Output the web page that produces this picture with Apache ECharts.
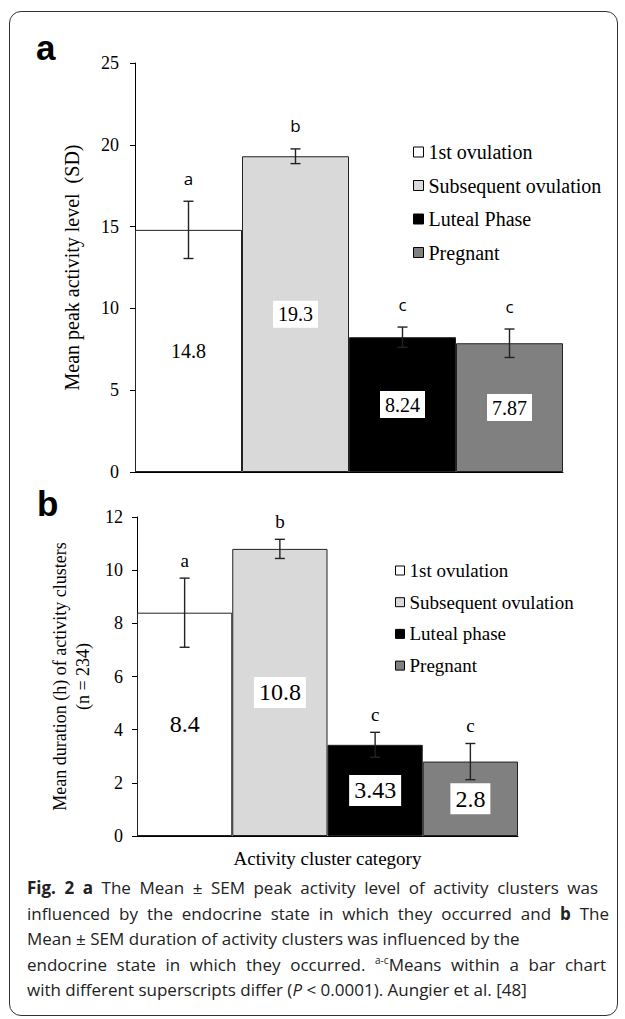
<!DOCTYPE html>
<html>
<head>
<meta charset="utf-8">
<script src="https://cdn.jsdelivr.net/npm/echarts@6/dist/echarts.min.js"></script>
<style>
  html, body { margin:0; padding:0; background:#fff; }
  #frame { position:absolute; left:9px; top:11px; width:609px; height:1005px; border:1.5px solid #333; border-radius:12px; box-sizing:border-box; }
  #chart { position:absolute; left:0; top:0; width:625px; height:1019px; }
  #caption { position:absolute; left:27px; top:875px; width:590px; font-family:'Open Sans', sans-serif; font-size:17px; line-height:25.5px; color:#222; white-space:nowrap; }
  #caption .j { text-align:justify; text-align-last:justify; }
  #caption sup { font-size:10px; vertical-align:7px; line-height:0; }
</style>
</head>
<body>
<div id="frame"></div>
<div id="chart"></div>
<div id="caption">
  <div class="j" style="width:571px"><b>Fig. 2 a</b> The Mean ± SEM peak activity level of activity clusters was</div>
  <div class="j" style="width:582px">influenced by the endocrine state in which they occurred and <b>b</b> The</div>
  <div>Mean ± SEM duration of activity clusters was influenced by the</div>
  <div class="j" style="width:579px">endocrine state in which they occurred. <sup>a-c</sup>Means within a bar chart</div>
  <div>with different superscripts differ (<i>P</i> &lt; 0.0001). Aungier et al. [48]</div>
</div>
<script>
// ---- data ----
const categoriesA = ['1st ovulation', 'Subsequent ovulation', 'Luteal Phase', 'Pregnant'];
const categoriesB = ['1st ovulation', 'Subsequent ovulation', 'Luteal phase', 'Pregnant'];
const peakMean = [14.8, 19.3, 8.24, 7.87];
const peakSem = [1.75, 0.45, 0.62, 0.87];
const durMean = [8.4, 10.8, 3.43, 2.8];
const durSem = [1.3, 0.36, 0.47, 0.68];
const lettersA = ['a', 'b', 'c', 'c'];
const lettersB = ['a', 'b', 'c', 'c'];
const barColors = ['#ffffff', '#d9d9d9', '#000000', '#808080'];

const SERIF = 'Liberation Serif';

function barSeries(names, means, idx, fontSize) {
  return names.map((n, i) => ({
    type: 'bar', name: n, xAxisIndex: idx, yAxisIndex: idx,
    barGap: '-100%', barCategoryGap: '0%',
    data: means.map((v, j) => (j === i ? v : '-')),
    itemStyle: { color: barColors[i], borderColor: '#222', borderWidth: 1 },
    label: {
      show: true, position: 'inside', formatter: (p) => String(p.value),
      backgroundColor: '#fff', padding: [4, 5, 3, 5],
      fontFamily: SERIF, fontSize: fontSize, color: '#000'
    },
    z: 2
  }));
}

function errSeries(means, sems, letters, idx, letterFont, offset) {
  return {
    type: 'custom', xAxisIndex: idx, yAxisIndex: idx, z: 10, silent: true,
    data: means.map((m, j) => [j, m - sems[j], m + sems[j]]),
    encode: { x: 0, y: [1, 2] },
    renderItem: function (params, api) {
      const x = api.value(0);
      const lo = api.coord([x, api.value(1)]);
      const hi = api.coord([x, api.value(2)]);
      const hw = 5;
      const st = { stroke: '#222', lineWidth: 1.4 };
      return {
        type: 'group',
        children: [
          { type: 'line', shape: { x1: hi[0], y1: lo[1], x2: hi[0], y2: hi[1] }, style: st },
          { type: 'line', shape: { x1: hi[0] - hw, y1: hi[1], x2: hi[0] + hw, y2: hi[1] }, style: st },
          { type: 'line', shape: { x1: hi[0] - hw, y1: lo[1], x2: hi[0] + hw, y2: lo[1] }, style: st },
          { type: 'text', style: { text: letters[params.dataIndex], x: hi[0], y: hi[1] - offset,
              align: 'center', verticalAlign: 'middle', textAlign: 'center', textVerticalAlign: 'middle',
              font: letterFont, fill: '#000' } }
        ]
      };
    }
  };
}

const chart = echarts.init(document.getElementById('chart'), null, { renderer: 'svg' });

const axisLineStyle = { show: true, lineStyle: { color: '#000', width: 1 } };

const option = {
  animation: false,
  grid: [
    { left: 135, top: 63, width: 428, height: 409 },
    { left: 137, top: 517, width: 381, height: 319 }
  ],
  xAxis: [
    { type: 'category', gridIndex: 0, data: categoriesA, axisLine: axisLineStyle,
      axisTick: { show: false }, axisLabel: { show: false } },
    { type: 'category', gridIndex: 1, data: categoriesB, axisLine: axisLineStyle,
      axisTick: { show: false }, axisLabel: { show: false },
      name: 'Activity cluster category', nameLocation: 'middle', nameGap: 13,
      nameTextStyle: { fontFamily: SERIF, fontSize: 19, color: '#000' } }
  ],
  yAxis: [
    { type: 'value', gridIndex: 0, min: 0, max: 25, interval: 5,
      axisLine: axisLineStyle, axisTick: { show: true, length: 5, lineStyle: { color: '#000' } },
      splitLine: { show: false },
      axisLabel: { fontFamily: SERIF, fontSize: 18, color: '#000', margin: 16 },
      name: 'Mean peak activity level  (SD)', nameLocation: 'middle', nameGap: 53,
      nameTextStyle: { fontFamily: SERIF, fontSize: 20, color: '#000' } },
    { type: 'value', gridIndex: 1, min: 0, max: 12, interval: 2,
      axisLine: axisLineStyle, axisTick: { show: true, length: 5, lineStyle: { color: '#000' } },
      splitLine: { show: false },
      axisLabel: { fontFamily: SERIF, fontSize: 18, color: '#000', margin: 14 },
      name: 'Mean duration (h) of activity clusters\n(n = 234)', nameLocation: 'middle', nameGap: 20,
      nameTextStyle: { fontFamily: SERIF, fontSize: 18, lineHeight: 23, color: '#000', align: 'center' } }
  ],
  legend: [
    { orient: 'vertical', left: 413, top: 142, padding: 0, data: categoriesA, icon: 'rect',
      itemWidth: 10, itemHeight: 10, itemGap: 13.5, selectedMode: false,
      itemStyle: { borderColor: '#000', borderWidth: 1 },
      textStyle: { fontFamily: SERIF, fontSize: 20, lineHeight: 20, color: '#000' } },
    { orient: 'vertical', left: 395, top: 561, padding: 0, data: categoriesB, icon: 'rect',
      itemWidth: 9, itemHeight: 9, itemGap: 12.7, selectedMode: false,
      itemStyle: { borderColor: '#000', borderWidth: 1 },
      textStyle: { fontFamily: SERIF, fontSize: 19, lineHeight: 19, color: '#000' } }
  ],
  graphic: [
    { type: 'text', x: 36, y: 47, style: { text: 'a', font: 'bold 35px Liberation Sans', fill: '#000', verticalAlign: 'middle' } },
    { type: 'text', x: 37, y: 503, style: { text: 'b', font: 'bold 35px Liberation Sans', fill: '#000', verticalAlign: 'middle' } }
  ],
  series: [].concat(
    barSeries(categoriesA, peakMean, 0, 20),
    barSeries(categoriesB, durMean, 1, 24),
    [errSeries(peakMean, peakSem, lettersA, 0, '17px Open Sans', 23),
     errSeries(durMean, durSem, lettersB, 1, '19px Liberation Serif', 18)]
  )
};
chart.setOption(option);
</script>
</body>
</html>
